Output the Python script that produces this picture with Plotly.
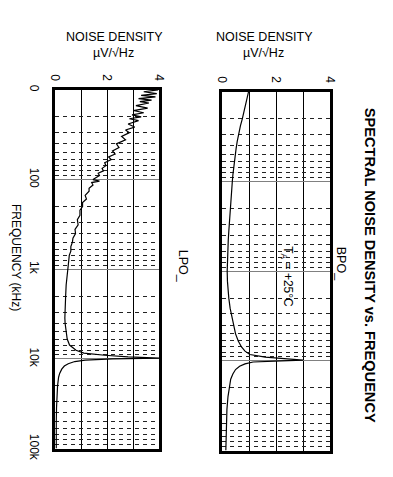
import plotly.graph_objects as go

W, H = 393, 477

# Frequency (Hz) and output noise density (uV/rtHz) for each filter output
lpo_freq = [10, 10.5, 11, 11.5, 12, 12.5, 13, 13.5, 14, 15, 16, 17, 18, 19, 20, 21, 22, 24, 26,
            28, 30, 33, 36, 40, 44, 48, 52, 56, 60, 65, 70, 75, 80, 85, 90, 95, 100, 104, 108,
            115, 125, 135, 150, 165, 180, 200, 220, 250, 280, 320, 360, 400, 450, 500, 560, 630,
            700, 800, 900, 1000, 1200, 1500, 2000, 2500, 3000, 3500, 4000, 5000, 6000, 7000,
            8000, 8600, 9100, 9500, 9800, 10000, 10300, 10700, 11300, 12000, 13000, 14500,
            16000, 20000, 25000, 35000, 50000, 70000, 100000]
lpo_noise = [3.95, 3.4, 3.9, 3.3, 3.85, 3.2, 3.7, 3.25, 3.6, 3.1, 3.55, 3.0, 3.4, 2.95, 3.3,
             2.85, 3.2, 2.8, 3.05, 2.7, 2.85, 2.55, 2.7, 2.35, 2.45, 2.2, 2.3, 2.05, 2.15, 1.9,
             1.95, 1.8, 1.85, 1.65, 1.7, 1.55, 1.45, 1.7, 1.4, 1.45, 1.3, 1.3, 1.15, 1.2, 1.05,
             1.05, 0.95, 0.95, 0.85, 0.88, 0.76, 0.78, 0.68, 0.66, 0.6, 0.6, 0.54, 0.52, 0.5,
             0.48, 0.45, 0.42, 0.4, 0.38, 0.37, 0.37, 0.38, 0.42, 0.46, 0.55, 0.8, 1.1, 1.9,
             2.8, 4.0, 2.2, 1.15, 0.75, 0.5, 0.35, 0.25, 0.17, 0.13, 0.09, 0.07, 0.05, 0.04,
             0.04, 0.04]

bpo_freq = [10, 11, 12, 13.5, 15, 17, 20, 24, 30, 36, 43, 50, 60, 70, 85, 100, 130, 160, 200,
            250, 300, 360, 450, 600, 800, 1000, 1300, 1600, 2000, 2600, 3200, 4000, 5000, 6000,
            7000, 7800, 8500, 9100, 9500, 9800, 10000, 10300, 10800, 11500, 12500, 14000,
            16000, 20000, 25000, 35000, 50000, 70000, 100000]
bpo_noise = [0.98, 0.95, 0.92, 0.9, 0.84, 0.8, 0.75, 0.68, 0.6, 0.56, 0.52, 0.49, 0.45, 0.43,
             0.4, 0.38, 0.35, 0.32, 0.3, 0.28, 0.27, 0.25, 0.23, 0.21, 0.2, 0.19, 0.2, 0.22,
             0.25, 0.3, 0.36, 0.42, 0.5, 0.6, 0.72, 0.85, 1.03, 1.6, 2.3, 3.0, 2.2, 1.15, 0.85,
             0.65, 0.5, 0.4, 0.32, 0.26, 0.22, 0.18, 0.16, 0.15, 0.14]

noise_ticks = [0, 2, 4]
noise_minor = [1, 3]
freq_ticks = [10, 100, 1000, 10000, 100000]
freq_labels = ["0", "100", "1k", "10k", "100k"]

FONT = "Liberation Sans Narrow, Liberation Sans, Arial, sans-serif"


def px(x):
    return x / W


def py(y):
    return 1 - y / H


fig = go.Figure()
fig.add_trace(go.Scatter(x=lpo_noise, y=lpo_freq, mode="lines", xaxis="x", yaxis="y",
                         line=dict(color="black", width=1.2), showlegend=False))
fig.add_trace(go.Scatter(x=bpo_noise, y=bpo_freq, mode="lines", xaxis="x2", yaxis="y2",
                         line=dict(color="black", width=1.2), showlegend=False))

xcommon = dict(range=[0, 4], showline=True, mirror=True, linecolor="black", linewidth=2.5,
               showgrid=True, gridcolor="black", gridwidth=1, zeroline=False,
               side="top", tickmode="array", tickvals=noise_ticks,
               ticktext=[str(v) for v in noise_ticks], tickangle=90,
               ticks="", ticklabelstandoff=2,
               tickfont=dict(family=FONT, size=12, color="black"),
               minor=dict(tickmode="array", tickvals=noise_minor, showgrid=True,
                          gridcolor="black", gridwidth=1, ticks=""))
ycommon = dict(type="log", range=[5, 1], showline=True, mirror=True, linecolor="black",
               linewidth=2.5, showgrid=True, gridcolor="#808080", gridwidth=1.3,
               zeroline=False, tickmode="array", tickvals=freq_ticks, ticktext=freq_labels,
               tickangle=90, ticks="", ticklabelstandoff=8,
               tickfont=dict(family=FONT, size=12, color="black"),
               minor=dict(showgrid=True, gridcolor="#222222", gridwidth=1,
                          griddash="4px,4px", dtick="D1", ticks=""))

fig.update_layout(
    width=W, height=H, margin=dict(l=0, r=0, t=0, b=0),
    paper_bgcolor="white", plot_bgcolor="white",
    xaxis=dict(domain=[px(50), px(158)], anchor="y", **xcommon),
    yaxis=dict(domain=[py(460), py(88)], anchor="x", **ycommon),
    xaxis2=dict(domain=[px(223), px(335)], anchor="y2", **xcommon),
    yaxis2=dict(domain=[py(462), py(90)], anchor="x2", showticklabels=False,
                **{k: v for k, v in ycommon.items() if k not in ("tickfont", "ticklabelstandoff")}),
)

ann = []
for cx in (111, 267):
    ann.append(dict(x=px(cx), y=py(33), text="NOISE DENSITY", showarrow=False,
                    font=dict(family=FONT, size=12.5, color="black")))
    ann.append(dict(x=px(cx - 1), y=py(50), text="µV/√Hz", showarrow=False,
                    font=dict(family=FONT, size=12.5, color="black")))
ann += [
    dict(x=px(376), y=py(270), text="<b>SPECTRAL NOISE DENSITY vs. FREQUENCY</b>",
         textangle=90, showarrow=False,
         font=dict(family=FONT, size=14.6, color="black")),
    dict(x=px(346), y=py(268), text="BPO_", textangle=90, showarrow=False,
         font=dict(family=FONT, size=12.5, color="black")),
    dict(x=px(182), y=py(271), text="LPO_", textangle=90, showarrow=False,
         font=dict(family=FONT, size=12.5, color="black")),
    dict(x=px(290), y=py(282), text="T<sub>A</sub> = +25°C", textangle=90, showarrow=False,
         font=dict(family=FONT, size=12, color="black")),
    dict(x=px(10), y=py(262), text="FREQUENCY (kHz)", textangle=90, showarrow=False,
         font=dict(family=FONT, size=12, color="black")),
]
for a in ann:
    a.update(xref="paper", yref="paper", xanchor="center", yanchor="middle")
fig.update_layout(annotations=ann)

fig.write_html("out.html")
